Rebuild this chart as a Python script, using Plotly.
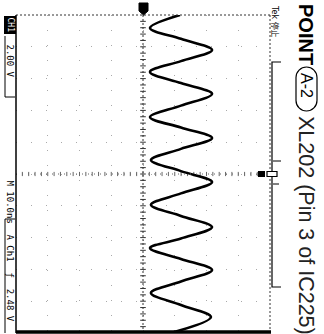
import plotly.graph_objects as go

W, H = 324, 334

# ---- data (time in ns, voltage in V) ----
time_ns = [0.0, 4.1, 7.5, 11.0, 14.5, 17.9, 21.4, 24.8, 28.5, 32.1, 35.4, 38.7,
           42.1, 45.6, 49.1, 52.5, 56.1, 59.7, 63.2, 66.7, 70.3, 73.3, 76.7,
           80.2, 83.8, 87.4, 91.2, 95.0, 100.0]
volts = [2.33, 0.44, 2.39, 4.35, 2.39, 0.44, 2.39, 4.35, 2.39, 0.44, 2.39, 4.35,
         2.39, 0.50, 2.39, 4.35, 2.39, 0.50, 2.39, 4.35, 2.39, 0.44, 2.39,
         4.35, 2.39, 0.50, 2.39, 4.28, 1.75]

# graticule (8 vertical divisions of 2 V, 10 time divisions of 10 ns)
v_range = [-8, 8]
t_range = [0, 100]
center_t_ticks = [i * 2 for i in range(1, 50)]
center_v_ticks = [-8 + i * 0.4 for i in range(1, 40)]

title_bold = "POINT"
title_tag = "A-2"
title_rest = "XL202 (Pin 3 of IC225)"
ch_label = "CH1"
ch_scale = "2.00 V"
time_label = "M 10.0ns"
trig_label = "A Ch1  \u0192  2.48 V"
status_label = "Tek 停止"


def px(x):
    return x / W


def py(y):
    return 1 - y / H


fig = go.Figure()

# center cross tick marks
fig.add_trace(go.Scatter(x=[0] * len(center_t_ticks), y=center_t_ticks, mode="markers",
                         marker=dict(symbol="line-ew", size=4, line=dict(width=1, color="#333")),
                         hoverinfo="skip", showlegend=False))
fig.add_trace(go.Scatter(x=center_v_ticks, y=[50] * len(center_v_ticks), mode="markers",
                         marker=dict(symbol="line-ns", size=3, line=dict(width=1, color="#666")),
                         hoverinfo="skip", showlegend=False))

# waveform
fig.add_trace(go.Scatter(x=volts, y=time_ns, mode="lines",
                         line=dict(color="black", width=2.6, shape="spline", smoothing=1.0),
                         hoverinfo="skip", showlegend=False))

x0p, x1p = 16, 270
y0p, y1p = 15, 333

shapes = []
# center lines
shapes.append(dict(type="line", xref="x", yref="y", x0=0, x1=0, y0=0, y1=100,
                   line=dict(color="#333", width=1, dash="2px,2px")))
shapes.append(dict(type="line", xref="x", yref="y", x0=-8, x1=8, y0=50, y1=50,
                   line=dict(color="#666", width=1, dash="1px,5px")))
# borders
shapes.append(dict(type="line", xref="paper", yref="paper", x0=px(x0p), x1=px(x1p), y0=py(y0p), y1=py(y0p),
                   line=dict(color="#333", width=1, dash="2px,2px")))
shapes.append(dict(type="line", xref="paper", yref="paper", x0=px(x1p), x1=px(x1p), y0=py(y0p), y1=py(y1p),
                   line=dict(color="#333", width=1, dash="2px,2px")))
shapes.append(dict(type="line", xref="paper", yref="paper", x0=px(x0p), x1=px(x0p), y0=py(y0p), y1=py(y1p),
                   line=dict(color="black", width=1.5)))
shapes.append(dict(type="line", xref="paper", yref="paper", x0=px(x0p), x1=px(x1p + 1), y0=py(332), y1=py(332),
                   line=dict(color="black", width=3.5)))
# record-length bracket on the right
shapes.append(dict(type="path", xref="paper", yref="paper",
                   path=f"M {px(281)} {py(62)} L {px(272)} {py(62)} L {px(272)} {py(287)} L {px(281)} {py(287)}",
                   line=dict(color="black", width=1.2)))
shapes.append(dict(type="path", xref="paper", yref="paper",
                   path=f"M {px(273)} {py(161)} L {px(281)} {py(161)} M {px(273)} {py(184)} L {px(279)} {py(184)}",
                   line=dict(color="black", width=1)))
# trigger position marker
shapes.append(dict(type="rect", xref="paper", yref="paper", x0=px(258), x1=px(265), y0=py(171), y1=py(177),
                   fillcolor="black", line=dict(width=0)))
shapes.append(dict(type="rect", xref="paper", yref="paper", x0=px(267), x1=px(277), y0=py(171.5), y1=py(176.5),
                   fillcolor="white", line=dict(color="black", width=1.2)))
# channel ground marker at top
shapes.append(dict(type="path", xref="paper", yref="paper",
                   path=(f"M {px(139)} {py(3)} L {px(148)} {py(3)} L {px(148)} {py(11)} "
                         f"L {px(143.5)} {py(15)} L {px(139)} {py(11)} Z"),
                   fillcolor="black", line=dict(color="black", width=1)))
# label brackets on the left
shapes.append(dict(type="path", xref="paper", yref="paper",
                   path=f"M {px(5)} {py(36)} L {px(5)} {py(97)} L {px(15)} {py(97)}",
                   line=dict(color="black", width=1)))
shapes.append(dict(type="path", xref="paper", yref="paper",
                   path=f"M {px(15)} {py(219)} L {px(5)} {py(219)} L {px(5)} {py(333)}",
                   line=dict(color="black", width=1)))
# rounded box around A-2
bx0, bx1, by0, by1 = 296, 317, 67, 111
r = (bx1 - bx0) / 2
k = 0.55 * r
shapes.append(dict(type="path", xref="paper", yref="paper",
                   path=(f"M {px(bx0)} {py(by0 + r)} "
                         f"C {px(bx0)} {py(by0 + r - k)} {px(bx0 + r - k)} {py(by0)} {px(bx0 + r)} {py(by0)} "
                         f"C {px(bx1 - r + k)} {py(by0)} {px(bx1)} {py(by0 + r - k)} {px(bx1)} {py(by0 + r)} "
                         f"L {px(bx1)} {py(by1 - r)} "
                         f"C {px(bx1)} {py(by1 - r + k)} {px(bx1 - r + k)} {py(by1)} {px(bx1 - r)} {py(by1)} "
                         f"C {px(bx0 + r - k)} {py(by1)} {px(bx0)} {py(by1 - r + k)} {px(bx0)} {py(by1 - r)} Z"),
                   line=dict(color="black", width=1.2)))

mono = "DejaVu Sans Mono"
ann = []


def add_text(text, xc, ytop, size, family="Liberation Sans", color="black", weight="normal", **kw):
    ann.append(dict(text=text, x=px(xc), y=py(ytop), xref="paper", yref="paper",
                    xanchor="center", yanchor="top", textangle=90, showarrow=False,
                    font=dict(size=size, family=family, color=color, weight=weight), **kw))


add_text(ch_label, 10, 15, 8, family=mono, color="white", bgcolor="black", borderpad=1)
add_text(ch_scale, 10, 42, 9, family=mono)
add_text(time_label, 10, 178, 9, family=mono)
add_text(trig_label, 10, 232, 9, family=mono)
add_text(status_label, 275.5, 3, 8, family="DejaVu Sans, Noto Sans CJK JP")
add_text(title_bold, 306.5, 2, 20, family="Liberation Sans", weight="bold")
add_text(title_tag, 306.5, 71, 16, family="Liberation Sans")
add_text(title_rest, 306.5, 114, 21.5, family="Liberation Sans", color="#222")

fig.update_layout(
    width=W, height=H,
    margin=dict(l=0, r=0, t=0, b=0),
    paper_bgcolor="white", plot_bgcolor="white",
    xaxis=dict(domain=[px(x0p), px(x1p)], range=v_range, dtick=2, tick0=0,
               showgrid=True, gridcolor="#aaa", gridwidth=1, griddash="1px,14px",
               zeroline=False, showticklabels=False, ticks="", showline=False, fixedrange=True),
    yaxis=dict(domain=[py(y1p), py(y0p)], range=[t_range[1], t_range[0]], dtick=10, tick0=0,
               showgrid=True, gridcolor="#aaa", gridwidth=1, griddash="1px,14px",
               zeroline=False, showticklabels=False, ticks="", showline=False, fixedrange=True),
    shapes=shapes,
    annotations=ann,
    showlegend=False,
)

fig.write_html("out.html", config={"displayModeBar": False},
               post_script="document.body.style.margin='0px';")
